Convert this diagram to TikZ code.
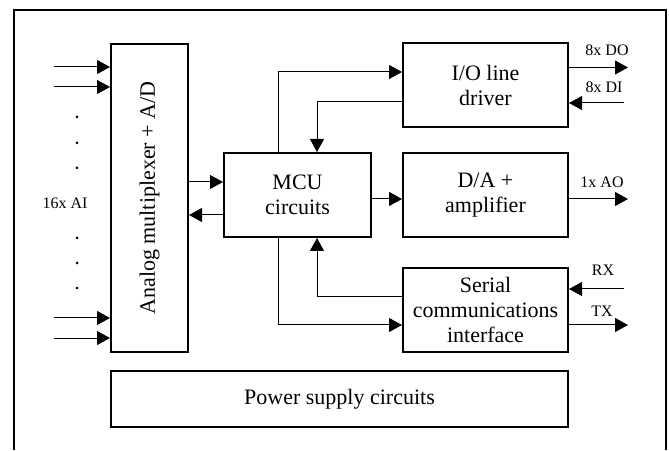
\documentclass[tikz,border=0pt]{standalone}
\usepackage{fontspec}
\setmainfont{Liberation Serif}
\usetikzlibrary{arrows.meta, positioning, calc}

\begin{document}
\begin{tikzpicture}[x=1pt, y=1pt,
            block/.style={rectangle, draw, line width=2pt, fill=white, minimum width=165pt, minimum height=84pt, align=center, inner sep=0pt, font=\fontsize{22}{25}\selectfont},
            arrow/.style={-{Triangle[length=13pt, width=14pt]}, line width=1pt},
            frame/.style={line width=1.5pt},
            lbl/.style={inner sep=0pt, font=\fontsize{16}{18}\selectfont}
        ]
            \useasboundingbox (0,0) rectangle (669,450);
            % Outer frame (open at the bottom)
            \draw[frame] (14,0) -- (14,440) -- (666,440) -- (666,0);

            % Input stage
            \node[block, minimum width=77pt, minimum height=308pt] (mux) at (149.5,252) {\rotatebox{90}{Analog multiplexer + A/D}};

            % Central controller
            \node[block, minimum width=147pt] (mcu) at (297.5,255) {MCU\\circuits};

            % Output blocks
            \node[block] (io) at (485.5,364.5) {I/O line\\driver};
            \node[block] (da) at (485.5,254.5) {D/A +\\amplifier};
            \node[block] (sci) at (485.5,140) {Serial\\communications\\interface};

            % Power
            \node[block, minimum width=457pt, minimum height=56pt] (power) at (339.5,51) {Power supply circuits};

            % Analog inputs
            \foreach \y [count=\i] in {383,363,132,112}{
                \coordinate (ai\i) at (54,\y);
                \draw[arrow] (ai\i) -- (ai\i -| mux.west);
            }
            \foreach \y in {333,307,282,212,187,162}
                \fill (77,\y) circle (1.5pt);
            \node[lbl] (ai) at (65,247) {16x AI};

            % Connections
            \draw[arrow] (mux.east |- 0,268) -- (mcu.west |- 0,268);
            \draw[arrow] (mcu.west |- 0,235) -- (mux.east |- 0,235);
            \draw[arrow] (mcu.east |- 0,251) -- (da.west |- 0,251);
            \draw[arrow] ([xshift=-19.5pt]mcu.north) |- (io.west |- 0,378);
            \draw[arrow] (io.west |- 0,348) -| ([xshift=19.5pt]mcu.north);
            \draw[arrow] ([xshift=-19.5pt]mcu.south) |- (sci.west |- 0,125);
            \draw[arrow] (sci.west |- 0,153) -| ([xshift=19.5pt]mcu.south);

            % Outputs
            \coordinate (do) at (628,382.5);
            \coordinate (di) at (624,347);
            \coordinate (ao) at (628,251);
            \coordinate (rx) at (624,161);
            \coordinate (tx) at (628,125);
            \draw[arrow] (io.east |- do) -- (do);
            \draw[arrow] (di) -- (io.east |- di);
            \draw[arrow] (da.east |- ao) -- (ao);
            \draw[arrow] (rx) -- (sci.east |- rx);
            \draw[arrow] (sci.east |- tx) -- (tx);
            \node[lbl] (lbldo) at (607,400) {8x DO};
            \node[lbl] (lbldi) at (604,363) {8x DI};
            \node[lbl] (lblao) at (602,268) {1x AO};
            \node[lbl] (lblrx) at (603,180) {RX};
            \node[lbl] (lbltx) at (602,139) {TX};
        \end{tikzpicture}
\end{document}
